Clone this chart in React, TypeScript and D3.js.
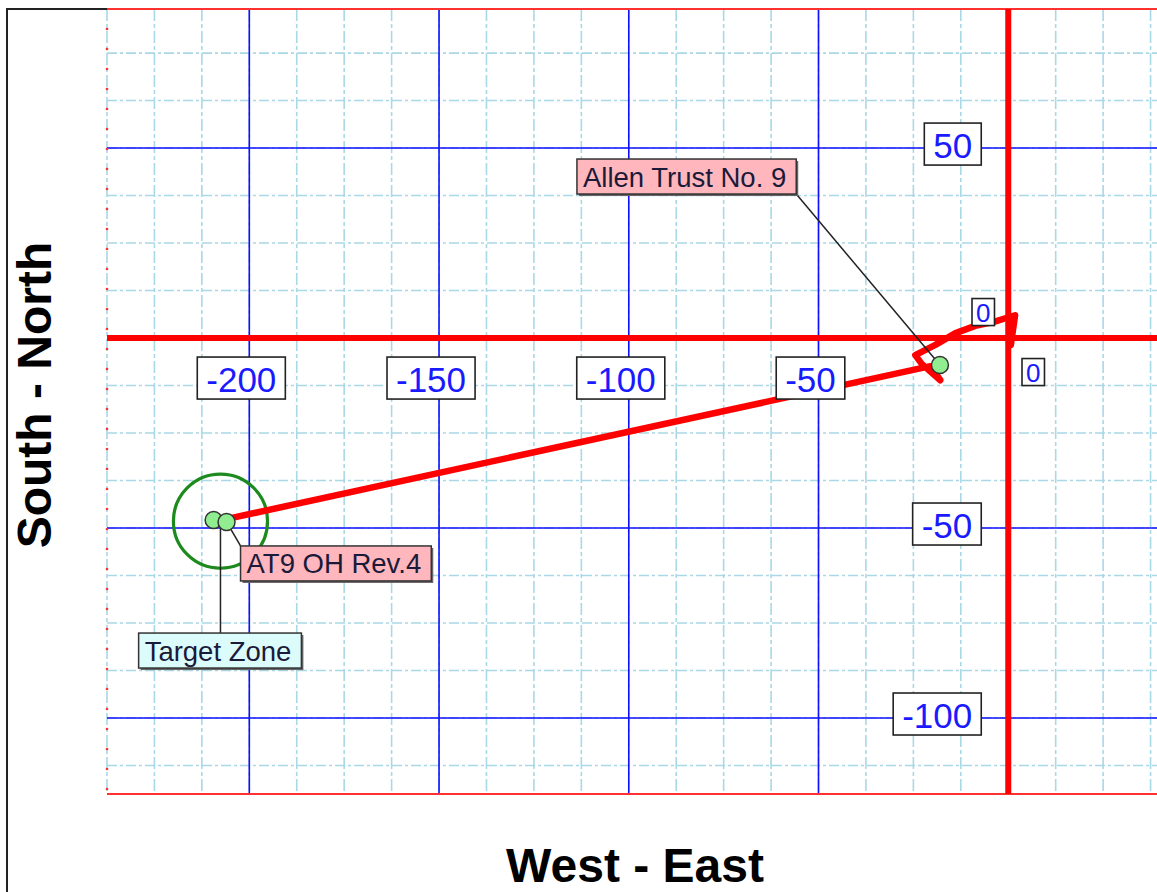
import React from "react";
import * as d3 from "d3";

// plan view values (feet, east / north of surface origin)
const xMajor = [-200, -150, -100, -50];
const xLabels = ["-200", "-150", "-100", "-50"];
const yMajor = [50, -50, -100];
const yLabels = ["50", "-50", "-100"];
const wellEast = [0.7, 1.8, -4.0, -8.7, -13.9, -19.2, -24.5, -22.8, -17.9, -20.5, -205.8];
const wellNorth = [-1.8, 6.0, 4.2, 3.2, 1.3, -1.8, -4.5, -6.8, -11.1, -7.4, -47.6];
const pointNames = ["Allen Trust No. 9", "Target Zone", "AT9 OH Rev.4"];
const pointEast = [-18.0, -209.4, -206.0];
const pointNorth = [-7.1, -47.9, -48.4];
const targetEast = -207.6;
const targetNorth = -48.2;
const targetRadius = 12.4;

const W = 1157;
const H = 892;
const FONT = "'Liberation Sans', Arial, sans-serif";

const App = () => {
  const svgRef = React.useRef(null);

  React.useEffect(() => {
    document.body.style.margin = "0";
    const x = d3.scaleLinear().domain([-237.5, 39.2]).range([107, 1157]);
    const y = d3.scaleLinear().domain([-120, 86.6]).range([794, 9]);
    const svg = d3.select(svgRef.current);
    svg.selectAll("*").remove();

    svg.append("rect").attr("width", W).attr("height", H).attr("fill", "#fff");

    // minor grid every 12.5
    const xMinor = d3.range(-237.5, 39.2, 12.5);
    const yMinor = d3.range(-112.5, 86.6, 12.5);
    svg.append("g").selectAll("line").data(xMinor).enter().append("line")
      .attr("x1", d => x(d)).attr("x2", d => x(d))
      .attr("y1", y(86.6)).attr("y2", y(-120))
      .attr("stroke", "#a9d8e6").attr("stroke-width", 1.6)
      .attr("stroke-dasharray", "12 3 4 3");
    svg.append("g").selectAll("line").data(yMinor).enter().append("line")
      .attr("x1", x(-237.5)).attr("x2", W)
      .attr("y1", d => y(d)).attr("y2", d => y(d))
      .attr("stroke", "#a9d8e6").attr("stroke-width", 1.6)
      .attr("stroke-dasharray", "10 3 3 3");

    // major grid
    svg.append("g").selectAll("line").data(xMajor).enter().append("line")
      .attr("x1", d => x(d)).attr("x2", d => x(d))
      .attr("y1", y(86.6)).attr("y2", y(-120))
      .attr("stroke", "#1010ff").attr("stroke-width", 1.6);
    svg.append("g").selectAll("line").data(yMajor).enter().append("line")
      .attr("x1", x(-237.5)).attr("x2", W)
      .attr("y1", d => y(d)).attr("y2", d => y(d))
      .attr("stroke", "#1010ff").attr("stroke-width", 1.6);

    // red plot borders top / bottom
    [86.6, -120].forEach(v => {
      svg.append("line").attr("x1", x(-237.5)).attr("x2", W)
        .attr("y1", y(v)).attr("y2", y(v))
        .attr("stroke", "#ff3030").attr("stroke-width", 2);
    });
    // little red ticks on left edge
    svg.append("g").selectAll("circle").data(d3.range(1, 40)).enter().append("circle")
      .attr("cx", x(-237.5)).attr("cy", i => 9 + i * 20)
      .attr("r", 1.3).attr("fill", "#ff3030");

    // red zero axes
    svg.append("line").attr("x1", x(0)).attr("x2", x(0))
      .attr("y1", y(86.6)).attr("y2", y(-120))
      .attr("stroke", "#ff0000").attr("stroke-width", 6);
    svg.append("line").attr("x1", x(-237.5)).attr("x2", W)
      .attr("y1", y(0)).attr("y2", y(0))
      .attr("stroke", "#ff0000").attr("stroke-width", 6);

    // outer frame
    svg.append("path").attr("d", `M7,${H} V9 H${x(-237.5)}`)
      .attr("fill", "none").attr("stroke", "#222").attr("stroke-width", 2);

    // target zone
    svg.append("circle").attr("cx", x(targetEast)).attr("cy", y(targetNorth))
      .attr("r", x(targetEast + targetRadius) - x(targetEast))
      .attr("fill", "none").attr("stroke", "#1c8a1c").attr("stroke-width", 3.2);

    // well path
    const line = d3.line().x(d => x(d[0])).y(d => y(d[1]));
    svg.append("path").attr("d", line(wellEast.map((e, i) => [e, wellNorth[i]])))
      .attr("fill", "none").attr("stroke", "#ff0000").attr("stroke-width", 6.5)
      .attr("stroke-linejoin", "round").attr("stroke-linecap", "round");

    const boxLabel = (g, txt, cx, cy, size, align) => {
      const t = g.append("text").text(txt).attr("font-family", FONT)
        .attr("font-size", size).attr("fill", "#1a1aff")
        .attr("text-anchor", "middle").attr("dominant-baseline", "central");
      const w = t.node().getComputedTextLength();
      const pad = size > 30 ? 9 : 4;
      const bw = w + pad * 2;
      const bh = size > 30 ? 42 : 27;
      const left = align === "end" ? cx - bw : cx - bw / 2;
      t.attr("x", left + bw / 2).attr("y", cy + 1);
      g.insert("rect", "text").attr("x", left).attr("y", cy - bh / 2)
        .attr("width", bw).attr("height", bh)
        .attr("fill", "#fff").attr("stroke", "#222").attr("stroke-width", 1.6);
    };

    // axis labels
    xMajor.forEach((v, i) => {
      boxLabel(svg.append("g"), xLabels[i], x(v) - 8, y(0) + 40, 35, "middle");
    });
    yMajor.forEach((v, i) => {
      boxLabel(svg.append("g"), yLabels[i], x(0) - 27, y(v) - 4, 35, "end");
    });
    boxLabel(svg.append("g"), "0", x(0) + 25, y(0) + 34, 26, "middle");
    boxLabel(svg.append("g"), "0", x(0) - 25, y(0) - 26, 26, "middle");

    // annotations
    const px = pointEast.map(d => x(d));
    const py = pointNorth.map(d => y(d));
    const notes = [
      { i: 0, left: px[0] - 363, top: py[0] - 206, fill: "#ffb6bd", corner: "br" },
      { i: 1, left: px[1] - 75, top: py[1] + 113, fill: "#dcfcfc", corner: "tc" },
      { i: 2, left: px[2] + 14, top: py[2] + 24, fill: "#ffb6bd", corner: "tl" },
    ];
    const noteG = svg.append("g");
    const leaderG = svg.append("g");
    const dotG = svg.append("g");
    notes.forEach(n => {
      const g = noteG.append("g");
      const t = g.append("text").text(pointNames[n.i]).attr("font-family", FONT)
        .attr("font-size", 27.5).attr("fill", "#1a1a3a");
      const w = t.node().getComputedTextLength();
      const bw = w + 16;
      const bh = 35;
      t.attr("x", n.left + 6).attr("y", n.top + bh / 2 + 10);
      g.insert("rect", "text").attr("x", n.left + 2).attr("y", n.top + 2)
        .attr("width", bw).attr("height", bh).attr("fill", "#666");
      g.insert("rect", "text").attr("x", n.left).attr("y", n.top)
        .attr("width", bw).attr("height", bh)
        .attr("fill", n.fill).attr("stroke", "#333").attr("stroke-width", 1.5);
      let ex = n.left, ey = n.top;
      let sx = px[n.i], sy = py[n.i];
      if (n.corner === "br") { ex = n.left + bw; ey = n.top + bh; }
      if (n.corner === "tc") { ex = x(targetEast); ey = n.top; sx = ex; sy = y(targetNorth); }
      leaderG.append("line").attr("x1", sx).attr("y1", sy).attr("x2", ex).attr("y2", ey)
        .attr("stroke", "#222").attr("stroke-width", 1.5);
    });
    pointEast.forEach((e, i) => {
      dotG.append("circle").attr("cx", x(e)).attr("cy", y(pointNorth[i])).attr("r", 8.5)
        .attr("fill", "#90ee90").attr("stroke", "#333").attr("stroke-width", 1.5);
    });
    noteG.raise();

    // titles
    svg.append("text").text("West - East").attr("x", 635).attr("y", 882)
      .attr("text-anchor", "middle").attr("font-family", FONT)
      .attr("font-size", 48).attr("font-weight", "bold").attr("fill", "#000");
    svg.append("text").text("South - North")
      .attr("transform", "translate(51,395) rotate(-90)")
      .attr("text-anchor", "middle").attr("font-family", FONT)
      .attr("font-size", 48).attr("font-weight", "bold").attr("fill", "#000");
  }, []);

  return <svg ref={svgRef} width={W} height={H} style={{ display: "block" }} />;
};

export default App;
